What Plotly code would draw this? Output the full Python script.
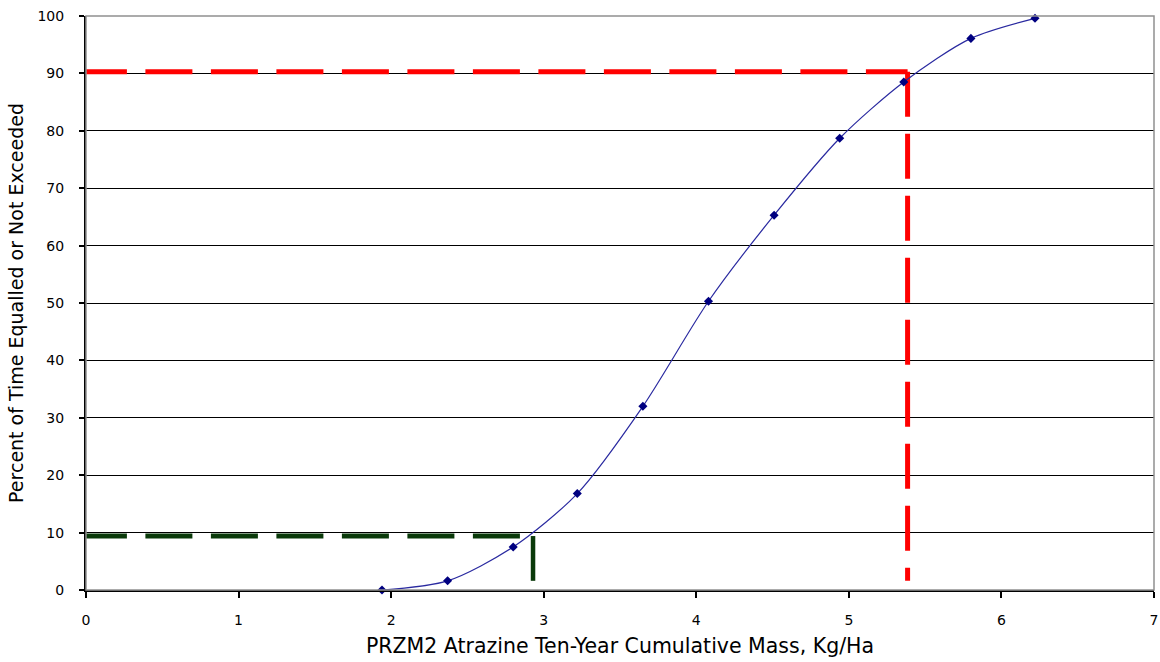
import plotly.graph_objects as go

mass = [1.94, 2.37, 2.80, 3.22, 3.65, 4.08, 4.51, 4.94, 5.36, 5.80, 6.22]
percent = [0.0, 1.6, 7.5, 16.8, 32.0, 50.3, 65.3, 78.7, 88.5, 96.1, 99.6]

p90_h_x = [-0.04, 5.385]
p90_h_y = [90.3, 90.3]
p90_v_x = [5.385, 5.385]
p90_v_y = [90.3, 1.6]
p10_h_x = [-0.04, 2.857]
p10_h_y = [9.4, 9.4]
p10_v_x = [2.93, 2.93]
p10_v_y = [9.4, 1.6]

xticks = [0, 1, 2, 3, 4, 5, 6, 7]
yticks = [0, 10, 20, 30, 40, 50, 60, 70, 80, 90, 100]

RED = "#ff0000"
GREEN = "#0a3a0a"

fig = go.Figure()
fig.add_trace(go.Scatter(x=p90_h_x, y=p90_h_y, mode="lines", cliponaxis=False,
                         line=dict(color=RED, width=5, dash="47px,18.5px"),
                         hoverinfo="skip"))
fig.add_trace(go.Scatter(x=p90_v_x, y=p90_v_y, mode="lines", cliponaxis=False,
                         line=dict(color=RED, width=5, dash="45px,17px"),
                         hoverinfo="skip"))
fig.add_trace(go.Scatter(x=p10_h_x, y=p10_h_y, mode="lines", cliponaxis=False,
                         line=dict(color=GREEN, width=5, dash="47px,18.5px"),
                         hoverinfo="skip"))
fig.add_trace(go.Scatter(x=p10_v_x, y=p10_v_y, mode="lines", cliponaxis=False,
                         line=dict(color=GREEN, width=4.5),
                         hoverinfo="skip"))
fig.add_trace(go.Scatter(x=mass, y=percent, mode="lines+markers", cliponaxis=False,
                         line=dict(color="#2a2aa0", width=1.2, shape="spline", smoothing=0.8),
                         marker=dict(symbol="diamond", size=7, color="#000080")))

fig.add_shape(type="rect", xref="paper", yref="paper", x0=0, y0=0, x1=1, y1=1,
              line=dict(color="#909090", width=1.5), layer="above")

FONT = "DejaVu Sans, Verdana, sans-serif"

fig.update_layout(
    width=1160, height=662,
    margin=dict(l=86, r=6, t=16, b=72, autoexpand=False),
    paper_bgcolor="white", plot_bgcolor="white",
    showlegend=False,
    font=dict(family=FONT, color="black", size=14),
)
fig.update_xaxes(range=[0, 7], tickvals=xticks, showgrid=False, zeroline=False,
                 automargin=False,
                 showline=True, linecolor="black", linewidth=2,
                 ticks="outside", ticklen=6, tickcolor="black", tickwidth=2,
                 ticklabelstandoff=10, ticklabeloverflow="allow",
                 tickfont=dict(size=14, family=FONT),
                 title=dict(text="PRZM2 Atrazine Ten-Year Cumulative Mass, Kg/Ha",
                            font=dict(size=20.5, family=FONT), standoff=12))
fig.update_yaxes(range=[0, 100], tickvals=yticks, showgrid=True, gridcolor="black",
                 gridwidth=1, zeroline=False,
                 automargin=False,
                 showline=True, linecolor="black", linewidth=2,
                 ticks="outside", ticklen=5, tickcolor="black", tickwidth=2,
                 ticklabelstandoff=12,
                 tickfont=dict(size=14, family=FONT),
                 title=dict(text="Percent of Time Equalled or Not Exceeded",
                            font=dict(size=19, family=FONT), standoff=9))

fig.write_html("out.html", config={"displayModeBar": False},
               post_script="document.body.style.margin='0';")
